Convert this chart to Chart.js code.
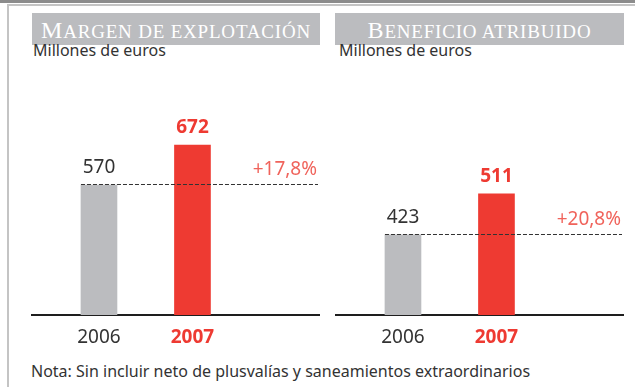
<!DOCTYPE html>
<html lang="es">
  <head>
    <meta charset="UTF-8" />
    <title>Margen de explotación y beneficio atribuido</title>
    <script src="https://cdn.jsdelivr.net/npm/chart.js"></script>
    <style>
      * {
        margin: 0;
        padding: 0;
        box-sizing: border-box;
      }
      body {
        width: 635px;
        height: 387px;
        background: #fff;
        position: relative;
        overflow: hidden;
        font-family: "Noto Sans", sans-serif;
        color: #333;
      }
      .top-bar {
        position: absolute;
        left: 0;
        top: 0;
        width: 635px;
        height: 3px;
        background: #8c8c8c;
      }
      .top-line {
        position: absolute;
        left: 7px;
        top: 4px;
        width: 628px;
        height: 2px;
        background: #c4c4c4;
      }
      .side-line {
        position: absolute;
        left: 7px;
        top: 4px;
        width: 2px;
        height: 383px;
        background: #c4c4c4;
      }
      .header {
        position: absolute;
        top: 13px;
        height: 32px;
        background: #bbbcbf;
        color: #fff;
        font-family: "Liberation Serif", serif;
        font-size: 24px;
        line-height: 34px;
        text-align: center;
        white-space: nowrap;
        letter-spacing: 0.8px;
      }
      .header .sc {
        font-size: 19px;
        text-transform: uppercase;
      }
      .unit {
        position: absolute;
        top: 42px;
        font-size: 16px;
        line-height: 16px;
      }
      .chart-box {
        position: absolute;
        top: 100px;
        width: 289px;
        height: 250px;
      }
      .note {
        position: absolute;
        left: 31px;
        top: 363px;
        font-size: 16px;
        line-height: 16px;
        white-space: nowrap;
      }
    </style>
  </head>
  <body>
    <div class="top-bar"></div>
    <div class="top-line"></div>
    <div class="side-line"></div>

    <div class="header" style="left: 32px; width: 288px">M<span class="sc">argen de explotación</span></div>
    <div class="unit" style="left: 33px">Millones de euros</div>
    <div class="chart-box" style="left: 31px"><canvas id="margen"></canvas></div>

    <div class="header" style="left: 335px; width: 289px">B<span class="sc">eneficio atribuido</span></div>
    <div class="unit" style="left: 339px">Millones de euros</div>
    <div class="chart-box" style="left: 335px"><canvas id="beneficio"></canvas></div>

    <div class="note">Nota: Sin incluir neto de plusvalías y saneamientos extraordinarios</div>

    <script>
      const years = ["2006", "2007"];
      const margenValues = [570, 672];
      const beneficioValues = [423, 511];
      const growthLabels = ["+17,8%", "+20,8%"];
      // visible value window of each panel
      const yRanges = [
        [238.5, 787],
        [251, 712],
      ];

      const GREY = "#bbbcbf";
      const RED = "#ee3a32";
      const DARK = "#333333";

      // value labels over the bars, plus the dashed reference at the 2006 level
      const annotate = {
        id: "annotate",
        afterDatasetsDraw(chart, args, opts) {
          const { ctx, chartArea } = chart;
          const meta = chart.getDatasetMeta(0);
          const values = chart.data.datasets[0].data.map((d) => d.y);
          const yScale = chart.scales.y;

          ctx.save();
          // dashed line from the first bar to the right edge
          const base = meta.data[0];
          const yRef = Math.round(yScale.getPixelForValue(values[0])) - 0.5;
          ctx.strokeStyle = DARK;
          ctx.lineWidth = 1;
          ctx.setLineDash([4, 2]);
          ctx.beginPath();
          ctx.moveTo(base.x - base.width / 2, yRef);
          ctx.lineTo(chartArea.right - 2, yRef);
          ctx.stroke();
          ctx.setLineDash([]);

          ctx.textAlign = "center";
          ctx.textBaseline = "middle";
          meta.data.forEach((bar, i) => {
            ctx.font =
              (i === 1 ? "bold " : "") + '19px "Noto Sans", sans-serif';
            ctx.fillStyle = i === 1 ? RED : DARK;
            ctx.fillText(String(values[i]), bar.x, bar.y - 17);
          });

          ctx.font = '19px "Noto Sans", sans-serif';
          ctx.fillStyle = "#f0635b";
          ctx.textAlign = "right";
          ctx.fillText(opts.growth, chartArea.right - 3, yRef - 15);
          ctx.restore();
        },
      };

      function drawPanel(id, values, growth, range) {
        const ctx = document.getElementById(id).getContext("2d");
        return new Chart(ctx, {
          type: "bar",
          data: {
            datasets: [
              {
                data: values.map((v, i) => ({ x: i, y: v })),
                backgroundColor: [GREY, RED],
                barThickness: 36,
              },
            ],
          },
          options: {
            responsive: true,
            maintainAspectRatio: false,
            animation: false,
            layout: { padding: 0 },
            plugins: {
              legend: { display: false },
              tooltip: { enabled: false },
              annotate: { growth: growth },
            },
            scales: {
              x: {
                type: "linear",
                offset: false,
                min: -0.727,
                max: 2.364,
                grid: { display: false, drawTicks: false },
                border: { display: true, color: "#1e1e1e", width: 2 },
                afterBuildTicks: (scale) => {
                  scale.ticks = years.map((_, i) => ({ value: i }));
                },
                afterFit: (scale) => {
                  scale.height = 35;
                },
                ticks: {
                  padding: 11,
                  autoSkip: false,
                  maxRotation: 0,
                  callback: (value) => years[value] || "",
                  color: (c) => (c.index === 1 ? RED : DARK),
                  font: (c) => ({
                    family: '"Noto Sans", sans-serif',
                    size: 19,
                    weight: c.index === 1 ? "bold" : "normal",
                  }),
                },
              },
              y: {
                display: false,
                min: range[0],
                max: range[1],
              },
            },
          },
          plugins: [annotate],
        });
      }

      drawPanel("margen", margenValues, growthLabels[0], yRanges[0]);
      drawPanel("beneficio", beneficioValues, growthLabels[1], yRanges[1]);
    </script>
  </body>
</html>
